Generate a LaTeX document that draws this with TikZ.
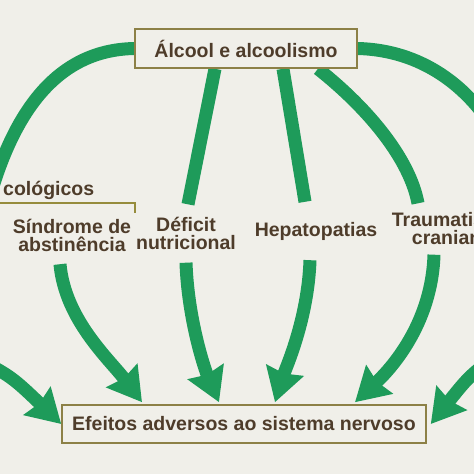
\documentclass[tikz,border=0pt]{standalone}
\usepackage{fontspec}
\setmainfont{Liberation Sans}
\usetikzlibrary{arrows.meta}
\definecolor{bg}{RGB}{240,239,233}
\definecolor{arrowgreen}{RGB}{30,155,90}
\definecolor{txt}{RGB}{78,60,42}
\definecolor{frame}{RGB}{140,128,70}
\definecolor{bracketcol}{RGB}{150,140,60}
\pgfdeclarelayer{bgl}
\pgfsetlayers{bgl,main}
\begin{document}
\begin{tikzpicture}[x=1pt,y=-1pt,
  lab/.style={font=\fontsize{19.5}{18}\selectfont\bfseries, text=txt, align=center, inner sep=0pt, minimum height=58pt},
  box/.style={draw=frame, line width=1.6pt, fill=bg, font=\fontsize{19.5}{22}\selectfont\bfseries, text=txt, inner sep=0pt},
  flow/.style={draw=arrowgreen, line width=13pt},
  flowarrow/.style={flow, -{Stealth[inset=3pt,length=33pt,width=38pt]}},
]
\useasboundingbox (0,0) rectangle (474,474);
\clip (0,0) rectangle (474,474);

% boxes
\node[box, minimum width=222pt, minimum height=39pt] (top) at (246,48.5) {Álcool e alcoolismo};
\node[box, minimum width=364pt, minimum height=38pt] (bottom) at (244,424) {Efeitos adversos ao sistema nervoso};

% labels
\node[lab] (sind) at (72,235) {Síndrome de\\abstinência};
\node[lab] (def) at (186,233.5) {Déficit\\nutricional};
\node[lab] (hep) at (316,231) {Hepatopatias};
\node[lab, minimum height=51pt] (trau) at (458,229) {Traumatismos\\cranianos};
\node[font=\fontsize{19.5}{18}\selectfont\bfseries, text=txt, anchor=base west, inner sep=0pt] (psi) at (3,195) {cológicos};

% off-image ends
\coordinate (offL1) at (-15,215);
\coordinate (offL2) at (-40,350);
\coordinate (offR1) at (500,140);
\coordinate (offR2) at (510,345);

\begin{pgfonlayer}{bgl}
\fill[bg] (-10,-10) rectangle (484,484);
% bracket under the cut group label
\draw[bracketcol, line width=1.5pt] (0,203) -| (135,213);
% upper arcs and lines
\draw[flow] (top.west) .. controls (55,50) and (10,115) .. (offL1);
\draw[flow] (top.east) .. controls (420,50) and (470,85) .. (offR1);
\draw[flow] ([xshift=-31pt]top.south) -- ([xshift=2pt]def.north);
\draw[flow] ([xshift=37pt]top.south) -- ([xshift=-11pt]hep.north);
\draw[flow] ([xshift=72pt]top.south) .. controls (370,110) and (410,160) .. ([xshift=-40pt]trau.north);
% lower arrows
\draw[flowarrow] (offL2) .. controls (10,375) .. (bottom.west);
\draw[flowarrow] (offR2) .. controls (470,375) .. ([xshift=4pt]bottom.east);
\draw[flowarrow] ([xshift=-12pt]sind.south) .. controls (65,320) and (110,360) .. ([xshift=-102pt,yshift=2pt]bottom.north);
\draw[flowarrow] (def.south) .. controls (188,320) and (205,370) .. ([xshift=-25pt,yshift=2pt]bottom.north);
\draw[flowarrow] ([xshift=-6pt]hep.south) .. controls (308,320) and (285,370) .. ([xshift=31pt,yshift=2pt]bottom.north);
\draw[flowarrow] ([xshift=-24pt]trau.south) .. controls (432,320) and (395,365) .. ([xshift=111pt,yshift=2pt]bottom.north);
\end{pgfonlayer}
\end{tikzpicture}
\end{document}
